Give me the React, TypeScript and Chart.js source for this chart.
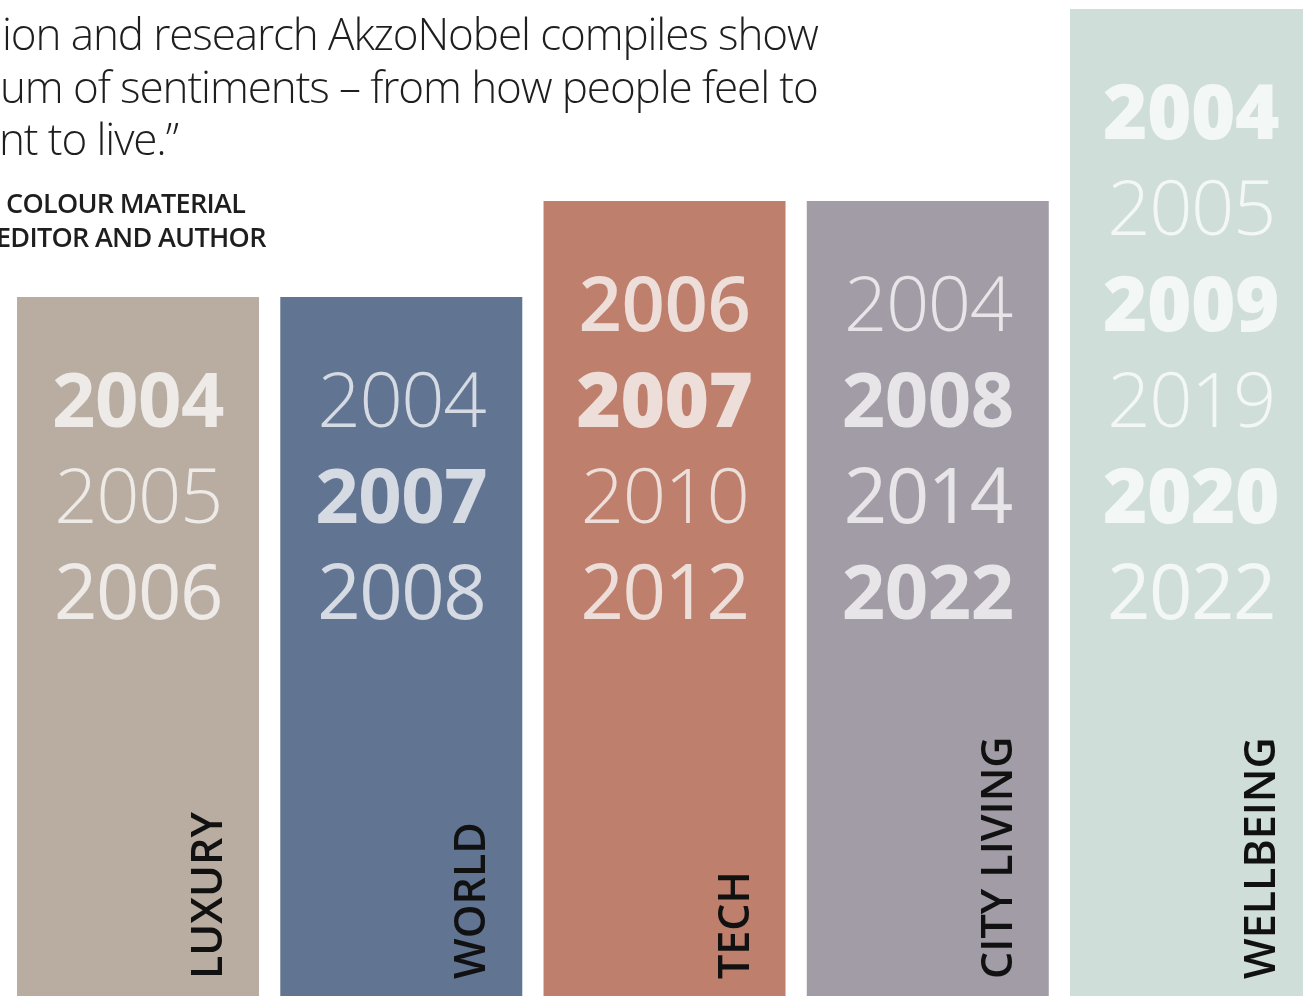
import React, { useEffect, useRef } from "react";
import { Chart, registerables } from "chart.js";

Chart.register(...registerables);

// ---- data ----
const categories = ["LUXURY", "WORLD", "TECH", "CITY LIVING", "WELLBEING"];
const trendYears: string[][] = [
  ["2004", "2005", "2006"],
  ["2004", "2007", "2008"],
  ["2006", "2007", "2010", "2012"],
  ["2004", "2008", "2014", "2022"],
  ["2004", "2005", "2009", "2019", "2020", "2022"],
];
const yearCounts = [3, 3, 4, 4, 6];
const quoteLines = [
  "ion and research AkzoNobel compiles show",
  "um of sentiments – from how people feel to",
  "nt to live.”",
];
const creditLines = ["COLOUR MATERIAL", "EDITOR AND AUTHOR"];

// ---- styles ----
const barColors = ["#b9ada1", "#617593", "#be7f6c", "#a29ca7", "#cfded8"];
const yearWeights: number[][] = [
  [700, 300, 400],
  [300, 700, 400],
  [600, 800, 300, 400],
  [300, 700, 400, 700],
  [800, 300, 800, 300, 800, 400],
];
const FONT = "'Open Sans', 'Noto Sans', sans-serif";
const Y_MIN = -4.281;
const Y_MAX = 6.094;

const overlayPlugin = {
  id: "overlay",
  afterDatasetsDraw(chart: any) {
    const ctx = chart.ctx as any;
    const meta = chart.getDatasetMeta(0);
    const yScale = chart.scales.y;
    ctx.save();
    meta.data.forEach((bar: any, i: number) => {
      const p = bar.getProps(["x", "y", "base", "width"], true);
      const n = yearCounts[i];
      // years
      ctx.textAlign = "center";
      ctx.textBaseline = "alphabetic";
      ctx.fillStyle = "rgba(255,255,255,0.74)";
      trendYears[i].forEach((yr, j) => {
        const baseline = yScale.getPixelForValue(n - j - 1) + 34;
        const w = yearWeights[i][j];
        ctx.font = `${w} 76px ${FONT}`;
        ctx.letterSpacing = w <= 400 ? "-1.5px" : "-0.5px";
        ctx.fillText(yr, p.x, baseline);
      });
      ctx.letterSpacing = "0px";
      // vertical category label
      const right = p.x + p.width / 2;
      ctx.save();
      ctx.translate(right - 37, p.base - 17);
      ctx.rotate(-Math.PI / 2);
      ctx.textAlign = "left";
      ctx.fillStyle = "#111111";
      ctx.font = `600 43px ${FONT}`;
      ctx.fillText(categories[i], 0, 0);
      ctx.restore();
    });

    // quote text
    ctx.textAlign = "left";
    ctx.textBaseline = "alphabetic";
    ctx.fillStyle = "#1e1e1e";
    ctx.font = `300 44px ${FONT}`;
    ctx.letterSpacing = "-1.1px";
    const qx = [2, 0, -1];
    quoteLines.forEach((t, k) => ctx.fillText(t, qx[k], 50 + k * 52.5));
    ctx.font = `600 27px ${FONT}`;
    ctx.letterSpacing = "-0.7px";
    ctx.fillText(creditLines[0], 6, 213);
    ctx.fillText(creditLines[1], -4, 247);
    ctx.letterSpacing = "0px";
    ctx.restore();
  },
};

export default function App() {
  const ref = useRef<HTMLCanvasElement | null>(null);
  useEffect(() => {
    if (!ref.current) return;
    document.body.style.margin = "0";
    const chart = new Chart(ref.current, {
      type: "bar",
      data: {
        labels: categories,
        datasets: [
          {
            data: yearCounts,
            base: Y_MIN,
            backgroundColor: barColors,
            borderWidth: 0,
            barPercentage: 242 / 263.25,
            categoryPercentage: 1,
          } as any,
        ],
      },
      options: {
        responsive: false,
        animation: false,
        events: [],
        layout: { padding: { left: 6.4, right: 7.35, top: 0, bottom: 0 } },
        plugins: { legend: { display: false }, tooltip: { enabled: false } },
        scales: {
          x: { display: false, offset: true },
          y: { display: false, min: Y_MIN, max: Y_MAX },
        },
      },
      plugins: [overlayPlugin],
    });
    const fonts = (document as any).fonts;
    if (fonts && fonts.load) {
      Promise.all(
        ["300 44px 'Open Sans'", "400 76px 'Open Sans'", "600 43px 'Open Sans'", "700 76px 'Open Sans'", "800 76px 'Open Sans'"].map((f) =>
          fonts.load(f).catch(() => null)
        )
      ).then(() => chart.update());
    }
    return () => chart.destroy();
  }, []);
  return (
    <div
      style={{
        position: "fixed",
        left: 0,
        top: 0,
        width: 1303,
        height: 996,
        overflow: "hidden",
        background: "#ffffff",
      }}
    >
      <canvas ref={ref} width={1330} height={996} style={{ display: "block" }} />
    </div>
  );
}
